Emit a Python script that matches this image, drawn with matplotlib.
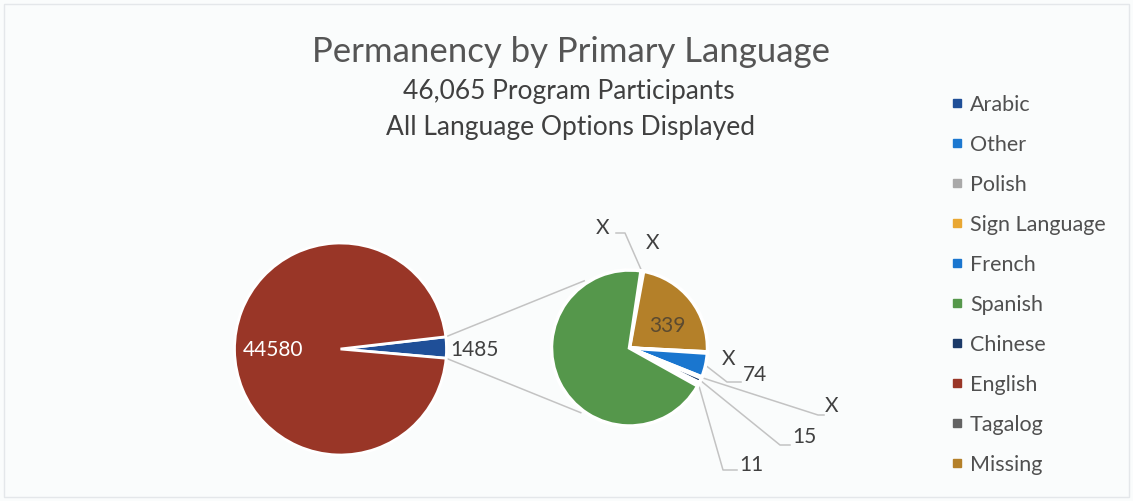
import matplotlib.pyplot as plt
from matplotlib.lines import Line2D
from matplotlib.patches import Rectangle
import numpy as np

plt.rcParams['font.family'] = ['Lato', 'DejaVu Sans']

# Data
total_participants = "46,065"
main_labels = ["Other languages", "English"]
main_values = [1485, 44580]

# secondary pie, in drawing order (clockwise from the top)
sec_labels = ["Arabic", "Polish", "Missing", "Sign Language", "French",
              "Tagalog", "Chinese", "Other", "Spanish"]
sec_values = [4, 4, 339, 4, 74, 4, 15, 11, 1026]
sec_text = ["X", "X", "339", "X", "74", "X", "15", "11", ""]

legend_labels = ["Arabic", "Other", "Polish", "Sign Language", "French",
                 "Spanish", "Chinese", "English", "Tagalog", "Missing"]
colors = {
    "Arabic": "#1f4f98",
    "Other": "#1c78d0",
    "Polish": "#a9a9a9",
    "Sign Language": "#e9a732",
    "French": "#1a76cf",
    "Spanish": "#55974b",
    "Chinese": "#1b3a68",
    "English": "#993627",
    "Tagalog": "#636363",
    "Missing": "#b48029",
}

bg = "#fafcfc"
W, H = 1133, 501


def Y(y):
    return H - y


fig = plt.figure(figsize=(W / 100, H / 100), dpi=100, facecolor=bg)
ax = fig.add_axes([0, 0, 1, 1])
ax.set_facecolor(bg)

# main pie
main_c = (340.5, Y(349))
main_r = 106
mw, _ = ax.pie(main_values, colors=[colors["Arabic"], colors["English"]],
               center=main_c, radius=main_r, startangle=-5.0,
               wedgeprops=dict(edgecolor="white", linewidth=2))

# secondary pie
sec_c = (629.5, Y(348))
sec_r = 78
sw, _ = ax.pie(sec_values, colors=[colors[l] for l in sec_labels],
               center=sec_c, radius=sec_r, startangle=81.5, counterclock=False,
               wedgeprops=dict(edgecolor="white", linewidth=2.5))

ax.set_xlim(0, W)
ax.set_ylim(0, H)
ax.set_aspect("equal")
ax.axis("off")

line_c = "#c3c3c3"

# connector lines between the pies
w = mw[0]
for th_main, th_sec in [(w.theta2, 124), (w.theta1, -127)]:
    x0 = main_c[0] + main_r * np.cos(np.radians(th_main))
    y0 = main_c[1] + main_r * np.sin(np.radians(th_main))
    x1 = sec_c[0] + 81 * np.cos(np.radians(th_sec))
    y1 = sec_c[1] + 81 * np.sin(np.radians(th_sec))
    ax.plot([x0, x1], [y0, y1], color=line_c, lw=1.1, zorder=0)

# main pie labels
ax.text(273, Y(350), f"{main_values[1]}", color="white", fontsize=15,
        ha="center", va="center")
ax.text(474, Y(350), f"{main_values[0]}", color="#404040", fontsize=15,
        ha="center", va="center")

# secondary pie labels (text position, leader elbow points)
sec_layout = {
    "Arabic": ((603, 228), [(625, 233), (616, 233)]),
    "Polish": ((653, 243), None),
    "Missing": ((667, 326), None),
    "Sign Language": ((729, 359), None),
    "French": ((755, 375), [(727, 382), (741, 382)]),
    "Tagalog": ((832, 406), [(818, 415), (824, 415)]),
    "Chinese": ((804, 437), [(780, 445), (790, 445)]),
    "Other": ((751, 465), [(723, 470), (737, 470)]),
}

for wedge, lab, txt in zip(sw, sec_labels, sec_text):
    if lab not in sec_layout:
        continue
    (tx, ty), path = sec_layout[lab]
    tcol = "#5b4a30" if lab == "Missing" else "#404040"
    ax.text(tx, Y(ty), txt, color=tcol, fontsize=15, ha="center", va="center")
    if path:
        mid = np.radians((wedge.theta1 + wedge.theta2) / 2)
        xs = [sec_c[0] + sec_r * np.cos(mid)] + [p[0] for p in path]
        ys = [sec_c[1] + sec_r * np.sin(mid)] + [Y(p[1]) for p in path]
        ax.plot(xs, ys, color=line_c, lw=1.1, zorder=0)

# titles
ax.text(571, Y(62), "Permanency by Primary Language", fontsize=25,
        color="#555555", ha="center", va="baseline")
ax.text(569, Y(99), f"{total_participants} Program Participants", fontsize=19,
        color="#404040", ha="center", va="baseline")
ax.text(570, Y(135), "All Language Options Displayed", fontsize=19,
        color="#404040", ha="center", va="baseline")

# legend
handles = [Line2D([], [], marker="s", ls="", markersize=6,
                  color=colors[l]) for l in legend_labels]
leg = ax.legend(handles, legend_labels, loc="upper left",
                bbox_to_anchor=(942 / W, 1 - 86 / H), frameon=False,
                fontsize=15.5, labelcolor="#505050", handlelength=0.6,
                handletextpad=0.3, labelspacing=0.93, borderaxespad=0)

ax.add_patch(Rectangle((4, 4), W - 8, H - 8, fill=False, ec="#e4e7ea", lw=1))

fig.savefig("out.png", dpi=100, facecolor=bg)
